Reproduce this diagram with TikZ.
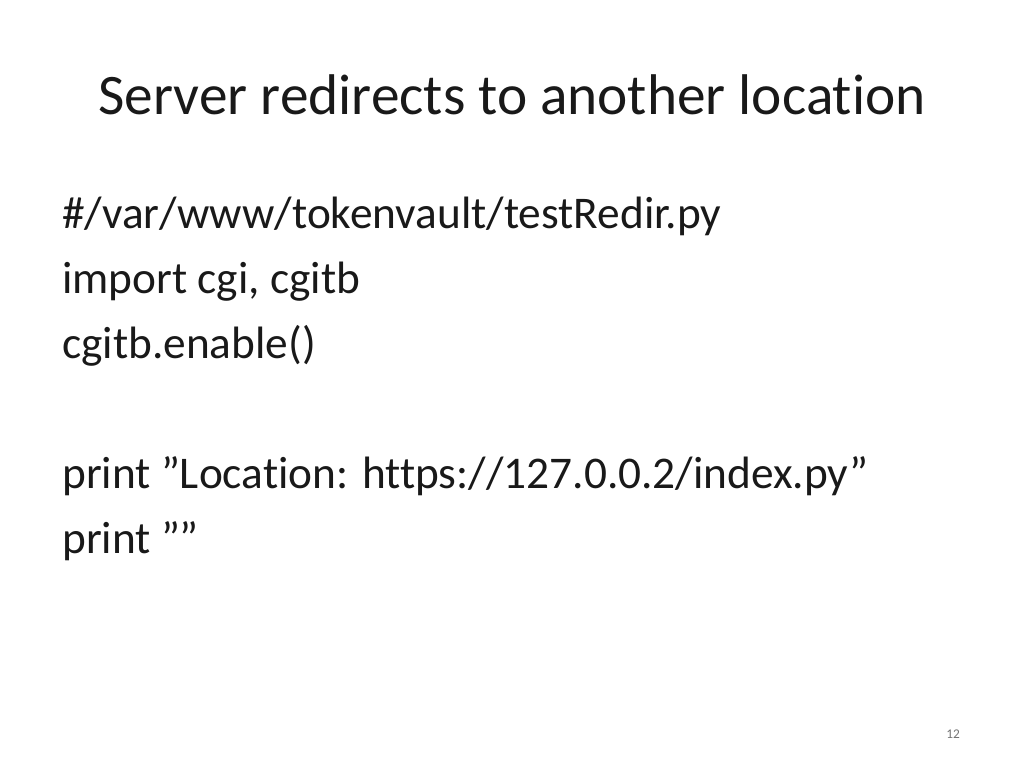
\documentclass[tikz,border=0pt]{standalone}
\usepackage{fontspec}
\setmainfont{Carlito}[Ligatures={NoCommon,NoContextual}]
\newcommand{\dq}{\symbol{34}}
\begin{document}
\begin{tikzpicture}[x=0.75pt,y=-0.75pt,
  body/.style={anchor=base west,inner sep=0pt,font=\fontsize{34}{40}\selectfont,text=black!90}]
\useasboundingbox (0,0) rectangle (1024,768);
\node[anchor=base,inner sep=0pt,font=\fontsize{43}{52}\selectfont,text=black!90] (title) at (512,114) {Server redirects to another location};
\node[body] (l1) at (62,228) {\#/var/www/tokenvault/testRedir.py};
\node[body] (l2) at (62,293) {import cgi, cgitb};
\node[body] (l3) at (62,358) {cgitb.enable()};
\node[body] (l4) at (62,488) {print \dq Location: https://127.0.0.2/index.py\dq};
\node[body] (l5) at (62,553) {print \dq\dq};
\node[anchor=base,inner sep=0pt,font=\fontsize{10}{12}\selectfont,text=black!55] (num) at (953,738) {12};
\end{tikzpicture}
\end{document}
